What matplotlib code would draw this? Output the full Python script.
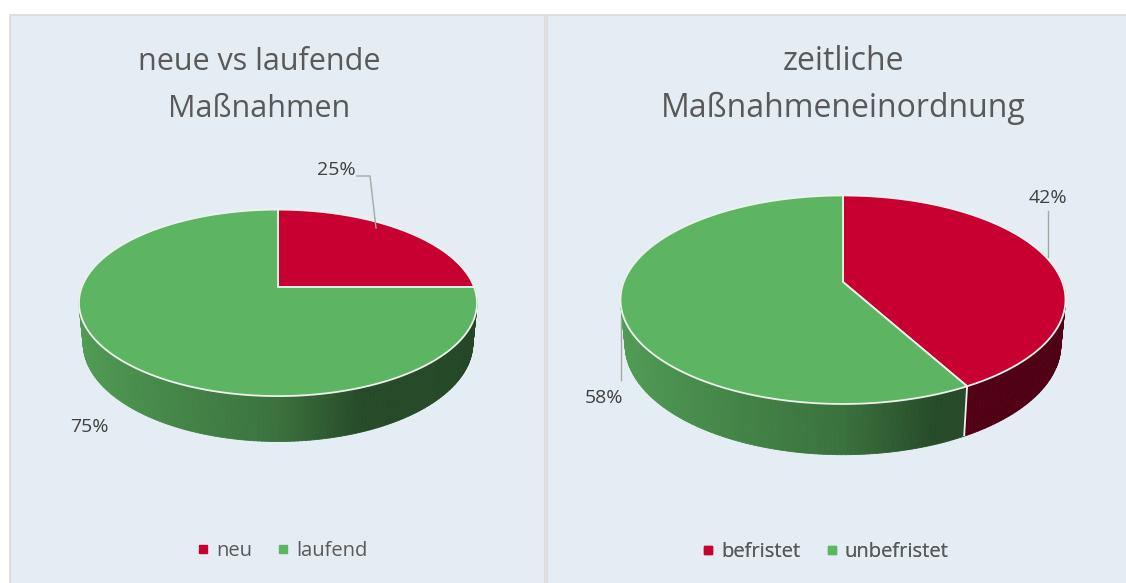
import numpy as np
import matplotlib
matplotlib.use("Agg")
import matplotlib.pyplot as plt
from matplotlib.patches import Rectangle, Polygon
from matplotlib.collections import PolyCollection
from matplotlib.lines import Line2D
from matplotlib.colors import to_rgb

# ---------------- data ----------------
left_title = ["neue vs laufende", "Maßnahmen"]
left_categories = ["neu", "laufend"]
left_values = [25, 75]

right_title = ["zeitliche", "Maßnahmeneinordnung"]
right_categories = ["befristet", "unbefristet"]
right_values = [42, 58]

slice_colors = ["#C80032", "#5DB462"]

# ---------------- style ----------------
FONT = "Open Sans"
plt.rcParams["font.family"] = [FONT, "DejaVu Sans"]
BG = "#E4EDF3"
BORDER = "#D9D9D9"
TITLE_C = "#595959"
LABEL_C = "#404040"
EDGE_C = "#EEF2EE"

# 3D perspective parameters
PHI = np.radians(27.5)
SN, CS = np.sin(PHI), np.cos(PHI)
DIST = 5.22
HEIGHT = 0.235


def make_proj(cx, cy, rx):
    tt = np.linspace(-np.pi, np.pi, 4000)
    S = rx / np.max(np.cos(tt) / (DIST + np.sin(tt) * CS))

    def proj(theta, z=0.0):
        theta = np.asarray(theta, dtype=float)
        x = np.cos(theta)
        y = np.sin(theta)
        depth = DIST + y * CS - z * SN
        X = x / depth
        Y = (y * SN + z * CS) / depth
        return cx + S * X, cy - S * Y
    return proj


def shade(theta):
    u = np.cos(theta)
    return np.interp(u, [-1.0, 0.0, 0.35, 1.0], [0.88, 0.63, 0.42, 0.39])


def draw_pie3d(ax, values, colors, cx, cy, rx):
    proj = make_proj(cx, cy, rx)
    total = float(sum(values))
    fracs = np.array(values) / total
    starts = 90.0 - 360.0 * np.concatenate([[0], np.cumsum(fracs)[:-1]])
    ends = starts - 360.0 * fracs

    # walls (front part, slightly extended to cover silhouette)
    front_lo, front_hi = -190.0, 10.0
    polys, fcols = [], []
    for st, en, col in zip(starts, ends, colors):
        base = np.array(to_rgb(col))
        for k in (-1, 0, 1):
            lo = max(en, front_lo + 360 * k)
            hi = min(st, front_hi + 360 * k)
            if hi <= lo:
                continue
            n = max(int((hi - lo) / 1.0), 2)
            th = np.radians(np.linspace(lo, hi, n + 1) - 360 * k)
            xt, yt = proj(th, 0.0)
            xb, yb = proj(th, -HEIGHT)
            for i in range(n):
                polys.append([(xt[i], yt[i]), (xt[i + 1], yt[i + 1]),
                              (xb[i + 1], yb[i + 1]), (xb[i], yb[i])])
                f = shade(0.5 * (th[i] + th[i + 1]))
                fcols.append(tuple(np.clip(base * f, 0, 1)))
    pc = PolyCollection(polys, facecolors=fcols, edgecolors=fcols,
                        linewidths=0.6, zorder=2)
    ax.add_collection(pc)

    # boundary lines on the wall
    for st in starts:
        a = ((st + 180.0) % 360.0) - 180.0
        if -175.0 < a < -5.0:
            t = np.radians(a)
            x0, y0 = proj(t, 0.0)
            x1, y1 = proj(t, -HEIGHT)
            ax.plot([x0, x1], [y0, y1], color=EDGE_C, lw=1.3, zorder=2.5,
                    solid_capstyle="butt")

    # top faces
    for st, en, col in zip(starts, ends, colors):
        n = max(int(abs(st - en) / 0.5), 2)
        th = np.radians(np.linspace(st, en, n + 1))
        xs, ys = proj(th, 0.0)
        pts = [(cx, cy)] + list(zip(xs, ys))
        ax.add_patch(Polygon(pts, closed=True, facecolor=col, edgecolor=EDGE_C,
                             lw=1.3, joinstyle="miter", zorder=3))
    return proj


fig = plt.figure(figsize=(11.26, 5.83), dpi=100)
fig.patch.set_facecolor("white")
ax = fig.add_axes([0, 0, 1, 1])
ax.set_xlim(0, 1126)
ax.set_ylim(583, 0)
ax.axis("off")

# panels
ax.add_patch(Rectangle((9.5, 14.5), 535.5, 600, facecolor=BG, edgecolor=BORDER, lw=1.2, zorder=0))
ax.add_patch(Rectangle((546.5, 14.5), 600, 600, facecolor=BG, edgecolor=BORDER, lw=1.2, zorder=0))

# titles
for line, yb in zip(left_title, [70, 117]):
    ax.text(259, yb, line, ha="center", va="baseline", fontsize=22, color=TITLE_C)
for line, yb in zip(right_title, [70, 117]):
    ax.text(843, yb, line, ha="center", va="baseline", fontsize=23, color=TITLE_C)

# pies
draw_pie3d(ax, left_values, slice_colors, 278, 287, 199)
draw_pie3d(ax, right_values, slice_colors, 843, 282, 222.5)

# data labels with leader lines
LEAD = "#A6A6A6"
ax.text(336, 170, f"{left_values[0]}%", ha="center", va="center", fontsize=14, color=LABEL_C)
ax.plot([357, 370, 376], [176, 176, 228], color=LEAD, lw=1.0, zorder=4)
ax.text(89, 427, f"{left_values[1]}%", ha="center", va="center", fontsize=14, color=LABEL_C)

ax.text(1048, 198, f"{right_values[0]}%", ha="center", va="center", fontsize=14, color=LABEL_C)
ax.plot([1048, 1048], [211, 257], color=LEAD, lw=1.0, zorder=4)
ax.text(604, 398, f"{right_values[1]}%", ha="center", va="center", fontsize=14, color=LABEL_C)
ax.plot([621, 621], [318, 380], color=LEAD, lw=1.0, zorder=4)

# legends
def add_legend(cats, xc, yc):
    handles = [Line2D([], [], marker="s", ls="", markersize=6, markerfacecolor=c,
                      markeredgecolor=c) for c in slice_colors]
    leg = ax.legend(handles, cats, loc="center", bbox_to_anchor=(xc, yc),
                    bbox_transform=ax.transData, ncol=len(cats), frameon=False,
                    handlelength=0.7, handletextpad=0.3, columnspacing=1.2,
                    fontsize=14.5, borderpad=0)
    for t in leg.get_texts():
        t.set_color(TITLE_C)
    ax.add_artist(leg)

add_legend(left_categories, 282, 551)
add_legend(right_categories, 825, 552)

fig.savefig("out.png", dpi=100, facecolor="white")
